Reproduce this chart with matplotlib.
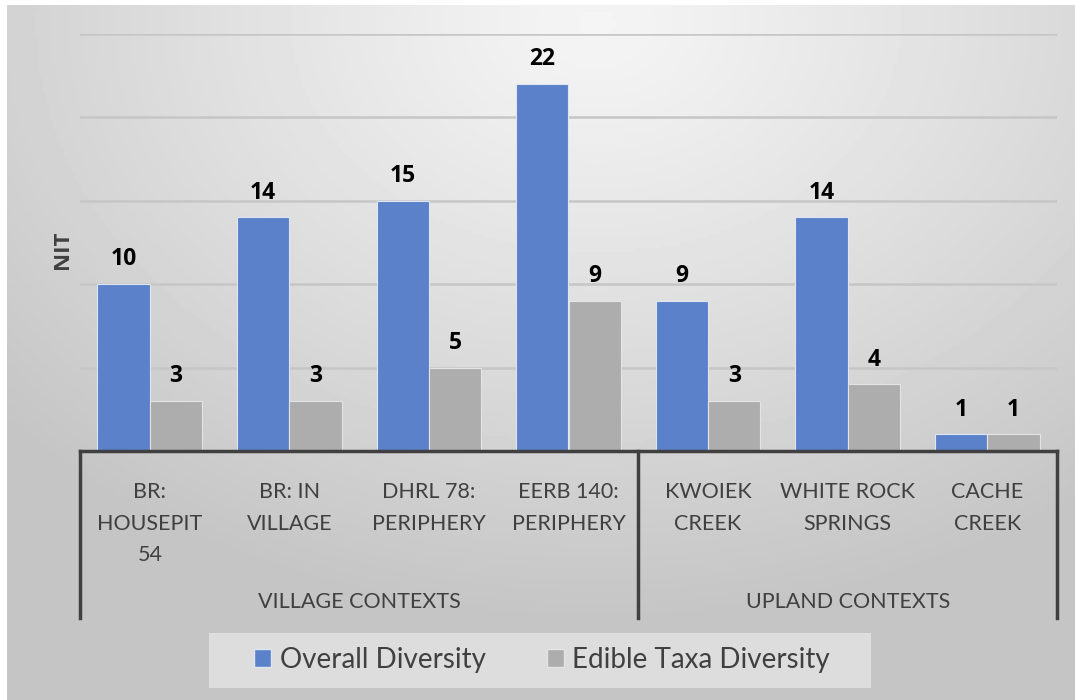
import numpy as np
import matplotlib
matplotlib.use("Agg")
import matplotlib.pyplot as plt
import matplotlib.transforms as mtransforms
from matplotlib.lines import Line2D
from matplotlib.patches import Patch, Rectangle

plt.rcParams['font.family'] = ['Lato', 'DejaVu Sans']
BOLD = ['Open Sans', 'DejaVu Sans']

# data
sites = ["BR:\nHOUSEPIT\n54", "BR: IN\nVILLAGE", "DHRL 78:\nPERIPHERY", "EERB 140:\nPERIPHERY",
         "KWOIEK\nCREEK", "WHITE ROCK\nSPRINGS", "CACHE\nCREEK"]
overall = [10, 14, 15, 22, 9, 14, 1]
edible = [3, 3, 5, 9, 3, 4, 1]
groups = ["VILLAGE CONTEXTS", "UPLAND CONTEXTS"]
group_sizes = [4, 3]

W, H = 1075, 700
fig = plt.figure(figsize=(W / 100, H / 100), dpi=100)
fig.patch.set_facecolor("white")

# gradient background of the chart frame
bg = fig.add_axes([7 / W, 0, (W - 7) / W, (H - 5) / H])
yy, xx = np.mgrid[0:200, 0:300]
cx, cy = 165, 5
d = np.sqrt(((xx - cx) / 300.0) ** 2 + ((yy - cy) / 230.0) ** 2)
d = np.clip(d / 0.75, 0, 1)
light, dark = 0.96, 0.77
img = light - (light - dark) * d ** 1.1
bg.imshow(img, cmap="gray", vmin=0, vmax=1, aspect="auto", extent=[0, 1, 0, 1], origin="upper")
bg.set_axis_off()

ax = fig.add_axes([80 / W, (H - 451) / H, 977 / W, 417 / H])
ax.patch.set_alpha(0)
x = np.arange(len(sites))
bw = 0.375
blue = "#5a81c9"
grey = "#adadad"
b1 = ax.bar(x - bw / 2, overall, bw, color=blue, edgecolor="#dfe6f2", linewidth=0.8, zorder=3)
b2 = ax.bar(x + bw / 2, edible, bw, color=grey, edgecolor="#e4e4e4", linewidth=0.8, zorder=3)

for bars, vals in [(b1, overall), (b2, edible)]:
    for r, v in zip(bars, vals):
        ax.annotate(str(v), (r.get_x() + r.get_width() / 2, v), xytext=(0, 13.5),
                    textcoords="offset points", ha="center", va="baseline",
                    fontsize=16.5, fontweight="bold", family=BOLD, color="black")

ax.set_xlim(-0.5, len(sites) - 0.5)
ax.set_ylim(0, 25)
ax.set_yticks([5, 10, 15, 20, 25])
ax.yaxis.grid(True, color="#c6c6c6", linewidth=1.8, zorder=0)
ax.tick_params(axis="y", length=0, labelleft=False)
ax.set_xticks([])
for s in ["top", "right", "left"]:
    ax.spines[s].set_visible(False)
ax.spines["bottom"].set_color("#404040")
ax.spines["bottom"].set_linewidth(2.5)
ax.spines["bottom"].set_zorder(4)

fig.text(62 / W, 1 - 250 / H, "NIT", rotation=90, ha="center", va="center",
         fontsize=16, fontweight="bold", family=BOLD, color="#404040")

# category labels and group brackets
tr = mtransforms.blended_transform_factory(ax.transData, fig.transFigure)
for xi, lab in zip(x, sites):
    ax.text(xi, 1 - 482 / H, lab, transform=tr, ha="center", va="top", fontsize=15.5,
            color="#404040", linespacing=1.72, clip_on=False)

start = 0
edges = [-0.5]
for g, n in zip(groups, group_sizes):
    mid = start + (n - 1) / 2
    ax.text(mid, 1 - 602 / H, g, transform=tr, ha="center", va="center", fontsize=15.5,
            color="#404040", clip_on=False)
    start += n
    edges.append(start - 0.5)
for e in edges:
    ax.add_line(Line2D([e, e], [1 - 451 / H, 1 - 618 / H], transform=tr, color="#404040",
                       linewidth=2.5, clip_on=False))

# legend with its own box
fig.patches.append(Rectangle((209 / W, 1 - 688 / H), 662 / W, 55 / H, transform=fig.transFigure,
                             facecolor="#e2e2e2", edgecolor="none", alpha=0.85, zorder=1))
handles = [Patch(facecolor=blue, edgecolor="#dfe6f2", label="Overall Diversity"),
           Patch(facecolor=grey, edgecolor="#e4e4e4", label="Edible Taxa Diversity")]
leg = fig.legend(handles=handles, loc="center", bbox_to_anchor=(542 / W, 1 - 660 / H), ncol=2,
                 fontsize=20, frameon=False, handlelength=0.62, handleheight=0.62,
                 handletextpad=0.3, columnspacing=2.2, labelcolor="#404040")

fig.savefig("out.png", dpi=100)
